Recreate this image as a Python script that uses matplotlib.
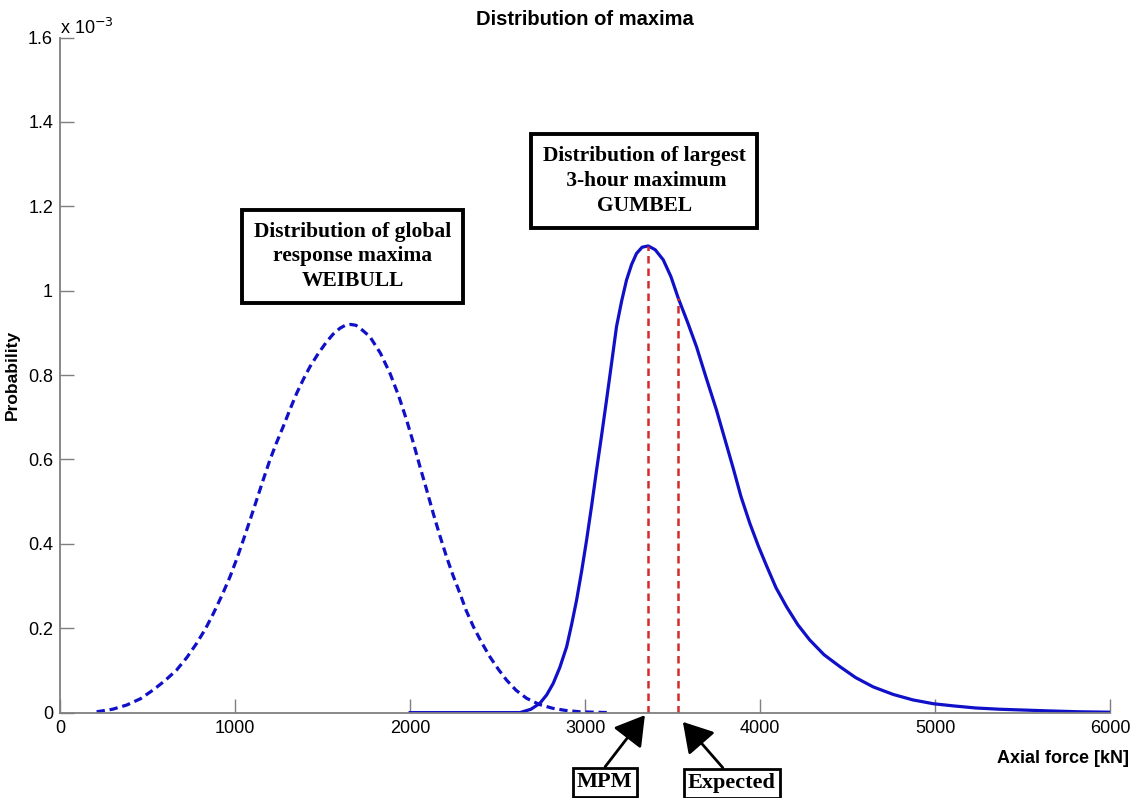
import numpy as np
import matplotlib.pyplot as plt

# --- Datos (kN, densidad de probabilidad en unidades de 1e-3) ---
weibull_x = [209, 300, 381, 460, 533, 600, 666, 725, 780, 830, 876, 925, 971,
             1010, 1047, 1085, 1123, 1160, 1199, 1237, 1275, 1313, 1352, 1390,
             1428, 1475, 1523, 1560, 1599, 1630, 1660, 1690, 1720, 1770, 1830,
             1885, 1935, 1980, 2020, 2056, 2095, 2132, 2170, 2208, 2245, 2284,
             2320, 2361, 2410, 2456, 2505, 2551, 2605, 2665, 2740, 2817, 2890,
             2970, 3050, 3141]
weibull_y = [0.002, 0.008, 0.018, 0.033, 0.054, 0.076, 0.101, 0.131, 0.164,
             0.198, 0.235, 0.278, 0.322, 0.365, 0.409, 0.456, 0.504, 0.551,
             0.599, 0.640, 0.678, 0.718, 0.757, 0.790, 0.820, 0.851, 0.879,
             0.897, 0.911, 0.918, 0.920, 0.918, 0.909, 0.891, 0.852, 0.804,
             0.750, 0.693, 0.637, 0.583, 0.527, 0.472, 0.419, 0.369, 0.325,
             0.283, 0.242, 0.204, 0.165, 0.132, 0.102, 0.077, 0.053, 0.034,
             0.019, 0.010, 0.005, 0.002, 0.001, 0.0]

gumbel_x = [2000, 2627, 2690, 2741, 2780, 2817, 2855, 2894, 2922, 2951, 2980,
            3008, 3037, 3065, 3094, 3122, 3150, 3179, 3208, 3236, 3265, 3293,
            3325, 3360, 3400, 3446, 3490, 3531, 3585, 3636, 3690, 3750, 3800,
            3845, 3890, 3941, 3990, 4036, 4090, 4150, 4215, 4283, 4365, 4455,
            4545, 4645, 4760, 4873, 4990, 5102, 5230, 5368, 5510, 5654, 5820,
            6000]
gumbel_y = [0.0, 0.0, 0.008, 0.022, 0.042, 0.069, 0.107, 0.156, 0.208, 0.267,
            0.336, 0.409, 0.491, 0.575, 0.658, 0.741, 0.826, 0.915, 0.975,
            1.025, 1.062, 1.088, 1.103, 1.106, 1.097, 1.073, 1.033, 0.983,
            0.925, 0.867, 0.795, 0.717, 0.645, 0.580, 0.512, 0.448, 0.394,
            0.348, 0.296, 0.251, 0.208, 0.172, 0.137, 0.109, 0.083, 0.061,
            0.043, 0.030, 0.021, 0.016, 0.011, 0.008, 0.006, 0.004, 0.002,
            0.001]

mpm_x, mpm_y = 3360, 1.106
exp_x, exp_y = 3531, 0.983

xticks = [0, 1000, 2000, 3000, 4000, 5000, 6000]
yticks = [0, 0.2, 0.4, 0.6, 0.8, 1.0, 1.2, 1.4, 1.6]
ytick_labels = ['0', '0.2', '0.4', '0.6', '0.8', '1', '1.2', '1.4', '1.6']

escala = 1e-3
azul = '#1010c8'
rojo = '#d42a2a'
gris = '#7f7f7f'

plt.rcParams['font.family'] = 'Liberation Sans'

fig = plt.figure(figsize=(11.33, 7.98), dpi=100)
ax = fig.add_axes([0.053, 0.107, 0.927, 0.846])

# Curvas
ax.plot(np.array(weibull_x), np.array(weibull_y) * escala, color=azul,
        lw=2.3, dashes=(2.6, 1.5))
ax.plot(np.array(gumbel_x), np.array(gumbel_y) * escala, color=azul, lw=2.3)

# Lineas MPM y valor esperado
ax.plot([mpm_x, mpm_x], [0, mpm_y * escala], color=rojo, lw=1.8, dashes=(3, 2))
ax.plot([exp_x, exp_x], [0, exp_y * escala], color=rojo, lw=1.8, dashes=(3, 2))

ax.set_xlim(0, 6000)
ax.set_ylim(0, 1.6 * escala)
ax.set_xticks(xticks)
ax.set_xticklabels([str(t) for t in xticks])
ax.set_yticks([t * escala for t in yticks])
ax.set_yticklabels(ytick_labels)
ax.tick_params(direction='in', length=10, width=1, color=gris,
               labelsize=13, pad=5)

for lado in ['top', 'right']:
    ax.spines[lado].set_visible(False)
for lado in ['left', 'bottom']:
    ax.spines[lado].set_color(gris)
    ax.spines[lado].set_linewidth(1.3)

ax.set_title('Distribution of maxima', fontsize=14.5, fontweight='bold', pad=9)
ax.text(0.0, 1.6 * escala, 'x 10$^{-3}$', fontsize=13, ha='left', va='bottom',
        transform=ax.transData)
ax.set_ylabel('Probability', fontsize=12.5, fontweight='bold', labelpad=6)
fig.text(0.938, 0.05, 'Axial force [kN]', fontsize=13, fontweight='bold',
         ha='center', va='center')

# Cuadros de texto
caja = dict(boxstyle='square,pad=0.55', fc='white', ec='black', lw=2.8)
ax.text(3337, 1.26 * escala, 'Distribution of largest\n 3-hour maximum\nGUMBEL',
        family='Liberation Serif', fontweight='bold', fontsize=15.5,
        ha='center', va='center', multialignment='center', linespacing=1.35,
        bbox=caja)
ax.text(1673, 1.081 * escala, 'Distribution of global\nresponse maxima\nWEIBULL',
        family='Liberation Serif', fontweight='bold', fontsize=15.5,
        ha='center', va='center', multialignment='center', linespacing=1.3,
        bbox=caja)

# Flechas MPM y Expected
caja_peq = dict(boxstyle='square,pad=0.2', fc='white', ec='black', lw=2)
flecha = '-|>,head_length=1.0,head_width=0.6'
ax.annotate('MPM', xy=(3341, -0.006 * escala), xytext=(3112, -0.165 * escala),
            family='Liberation Serif', fontweight='bold', fontsize=16,
            ha='center', va='center', bbox=caja_peq, annotation_clip=False,
            arrowprops=dict(arrowstyle=flecha, color='black', lw=2,
                            relpos=(0.43, 1.0), mutation_scale=18,
                            shrinkA=0, shrinkB=0))
ax.annotate('Expected', xy=(3558, -0.022 * escala), xytext=(3838, -0.167 * escala),
            family='Liberation Serif', fontweight='bold', fontsize=16,
            ha='center', va='center', bbox=caja_peq, annotation_clip=False,
            arrowprops=dict(arrowstyle=flecha, color='black', lw=2,
                            relpos=(0.45, 1.0), mutation_scale=18,
                            shrinkA=0, shrinkB=0))

fig.savefig('out.png', dpi=100)
